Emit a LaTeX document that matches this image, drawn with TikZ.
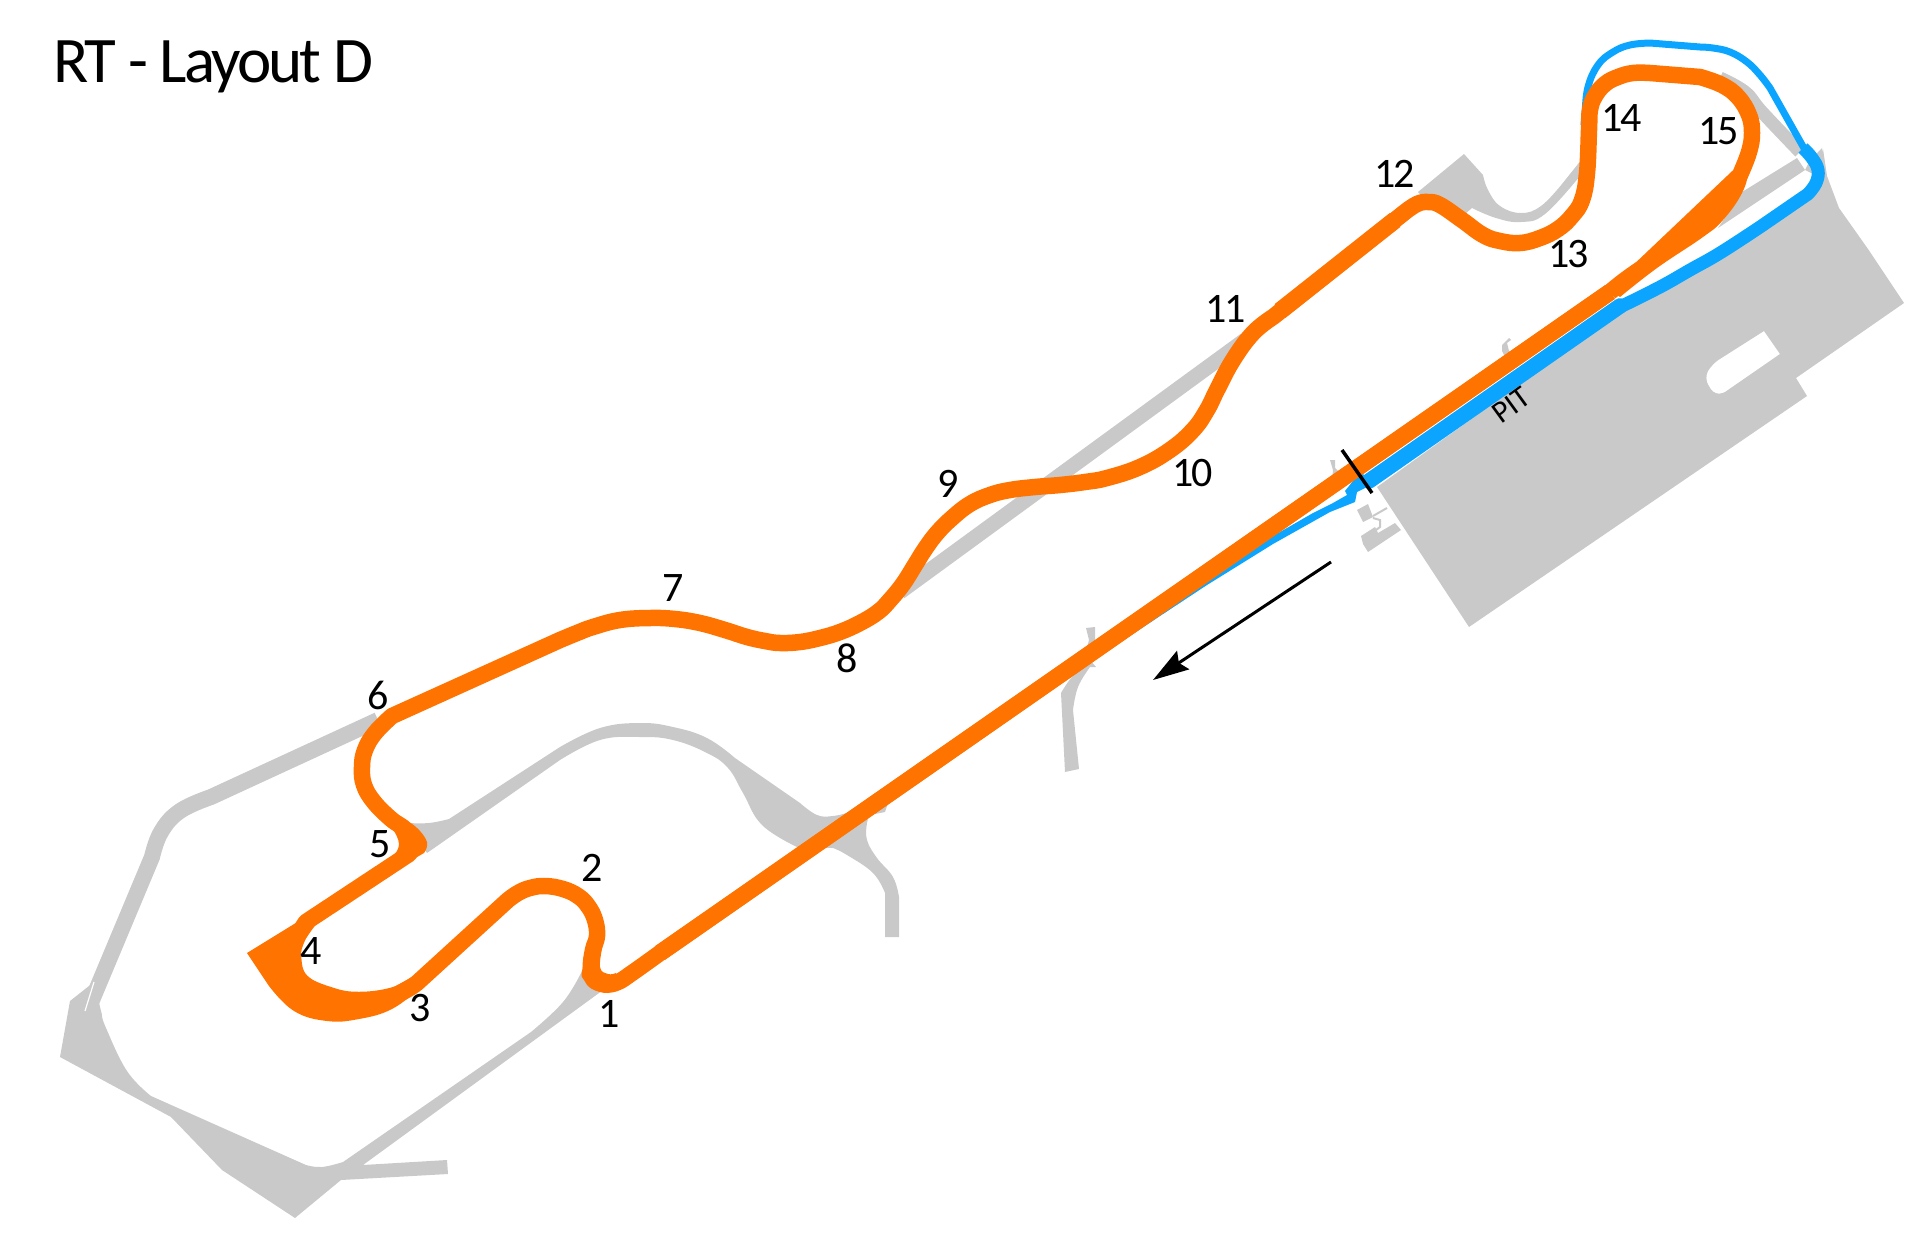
\documentclass[tikz,border=0pt]{standalone}
\usepackage{fontspec}
\usepackage{tikz}
\usetikzlibrary{arrows.meta}
\setmainfont{Carlito}

\definecolor{tarmac}{HTML}{C9C9C9}
\definecolor{trackorange}{HTML}{FF7300}
\definecolor{pitblue}{HTML}{0BA5FF}

\tikzset{
  curvy/.style={smooth,tension=.7},
  tarmacroad/.style={draw=tarmac,line width=15},
  trackline/.style={draw=trackorange,line width=16.5,line join=round},
  pitline/.style={draw=pitblue,line width=7,line join=round},
  turnlabel/.style={inner sep=0pt,font=\addfontfeature{LetterSpace=-6}\fontsize{42}{50}\selectfont}
}

\begin{document}
\begin{tikzpicture}[x=1pt,y=-1pt]

\useasboundingbox (0,0) rectangle (1920,1243);

% paddock
\fill[tarmac,even odd rule] (1823,149) -- (1827,176) -- (1839,208) -- (1868,249) -- (1904,303)
    -- (1796,378) -- (1807,396) -- (1469,627) -- (1377,487) -- (1620,312) -- (1810,190) -- cycle
    (1764,331) -- (1780,354) -- (1725,392) [rounded corners=8pt] -- (1715,396) -- (1704,378) -- (1712,364) [sharp corners] -- cycle;
\fill[tarmac] (1357,510) -- (1368,504) -- (1373,517) -- (1363,522) -- cycle;
\fill[tarmac] (1361,536) -- (1375,527) -- (1378,533) -- (1395,523) -- (1401,530) -- (1368,552) -- (1363,544) -- cycle;
\draw[tarmac,line width=2] (1373,516) -- (1387,508);
\draw[tarmac,line width=2] (1373,518) -- (1380,520) -- (1380,527) -- (1376,530);

% back roads
\fill[tarmac] (1797,158) -- (1742,192) -- (1718,228) -- (1805,170) -- cycle;
\fill[tarmac] (1810,160) -- (1822,148) -- (1825,180) -- (1805,170) -- cycle;
\draw[tarmacroad,line width=13] plot[curvy] coordinates {(1720,78) (1745,92) (1762,112) (1800,152)};
\draw[tarmacroad] (1245,340) -- (900,592);
\fill[tarmac] (1418,192) -- (1464,154) -- plot[curvy] coordinates {(1483,175) (1488,190) (1500,206) (1521,213) (1541,206) (1562,184)}
    -- (1582,159) -- (1590,180) -- plot[curvy] coordinates {(1580,176) (1545,214) (1521,222) (1496,218) (1472,208)}
    -- (1465,214) -- (1430,205) -- cycle;

% lower left corner
\draw[tarmacroad,line width=16] (378,720) -- (211,797) -- plot[curvy] coordinates {(211,797) (180,811) (161,832) (152,857)} -- (90,1005);
\fill[tarmac] (70,1001) -- (94,982) -- plot[curvy] coordinates {(102,1015) (106,1028) (127,1071) (151,1096)}
    -- plot[curvy] coordinates {(306,1165) (322,1167) (343,1162)} -- plot[curvy] coordinates {(531,1032) (563,1002) (582,971)}
    -- (610,985) -- (363,1165) -- (447,1160) -- (448,1174) -- (341,1180) -- (295,1218) -- (222,1170)
    -- (171,1117) -- (60,1057) -- cycle;
\draw[white,line width=1.2] (85,1011) -- (94,982);

% infield loop
\fill[tarmac] plot[curvy] coordinates {(408,823) (429,823) (449,819)} -- (560,747)
    -- plot[curvy] coordinates {(560,747) (600,728) (640,723) (673,727) (707,738) (735,758)}
    -- plot[curvy] coordinates {(800,803) (817,815) (833,816) (850,812)} -- (895,782) -- (885,812) -- plot[curvy] coordinates {(870,815) (867,823) (867,840) (877,858) (893,877) (899,897)}
    -- (899,937) -- (885,937) -- plot[curvy] coordinates {(885,893) (873,873) (847,855) (833,848)}
    -- plot[curvy] coordinates {(797,847) (762,825) (743,793) (728,768) (707,753) (673,740) (640,737) (600,740) (560,760)}
    -- (427,853) -- cycle;

% stubs
\fill[tarmac] plot[curvy] coordinates {(1061,693) (1072,677) (1090,660)} -- (1096,667) -- plot[curvy] coordinates {(1090,667) (1078,687) (1073,710)}
    -- (1079,769) -- (1065,772) -- cycle;
\fill[tarmac] (1086,628) -- (1095,627) -- (1095,640) -- (1105,645) -- (1085,655) -- (1089,640) -- cycle;
\fill[tarmac] (1330,460) -- (1335,460) -- (1335,468) -- (1340,473) -- (1332,480) -- (1333,470) -- cycle;
\fill[tarmac] (1509,338) -- (1502,345) -- (1502,351) -- (1507,361) -- (1513,355) -- (1509,351) -- (1507,343) -- (1511,340) -- cycle;

% pit lane
\draw[pitline] plot[curvy] coordinates {(1584,125) (1585,113) (1588,87) (1598,65) (1613,52) (1630,45) (1650,43)}
    -- plot[curvy] coordinates {(1700,47) (1713,48) (1730,52) (1747,62) (1760,75) (1770,88)} -- (1805,150);
\draw[pitline,line width=13] plot[curvy] coordinates {(1803,148) (1812,158) (1818,170) (1816,183) (1808,194)} -- (1760,227)
    -- plot[curvy] coordinates {(1760,227) (1720,253) (1690,270) (1660,287) (1620,307)};
\draw[pitline,line width=15.5,line cap=round] (1620,306) -- (1369,481);
\fill[pitblue] (1098,657) -- (1207,585) -- (1273,544) -- (1330,512) -- (1355,502) -- (1357,492) -- (1375,483) -- (1360,472)
    -- (1345,491) -- (1347,495) -- (1333,503) -- (1313,513) -- (1280,532) -- (1200,575) -- (1100,640) -- cycle;

% the track
\fill[trackorange] (247,953) -- plot[curvy] coordinates {(269,986) (294,1011) (327,1021) (359,1019) (392,1009) (420,988)}
    -- (412,977) -- plot[curvy] coordinates {(392,988) (359,993) (331,988) (306,975) (298,955) (314,927)}
    -- (325,905) -- cycle;
\fill[trackorange] plot[curvy] coordinates {(394,855) (399,844) (392,828) (380,817)} -- plot[curvy] coordinates {(402,819) (416,827) (427,842) (424,853)} -- (412,860) -- cycle;
\fill[trackorange] plot[curvy] coordinates {(590,944) (582,971) (584,980) (592,989) (608,993) (620,988)} -- plot[curvy] coordinates {(616,973) (608,974) (600,967) (603,944)} -- cycle;
\fill[trackorange] plot[curvy] coordinates {(1735,173) (1703,203) (1670,233) (1637,263) (1610,290)}
    -- plot[curvy] coordinates {(1620,297) (1657,268) (1703,237) (1723,220) (1742,193) (1750,167) (1757,137)} -- cycle;
\draw[trackline] (1610,292) -- (660,953)
    -- plot[curvy] coordinates {(660,953) (632,973) (618,982) (607,984) (596,979) (591,968) (593,950) (597,936) (595,920) (588,906) (578,896) (563,889) (545,886) (530,888) (518,893) (508,900)}
    -- plot[curvy] coordinates {(417,983) (395,995) (359,1000) (329,995) (301,981) (293,957) (297,938) (306,922)}
    -- plot[curvy] coordinates {(409,854) (413,843) (406,830) (391,819) (374,802) (364,785) (362,767) (365,750) (375,733) (392,716)}
    -- plot[curvy] coordinates {(560,640) (577,633) (593,627) (620,620) (650,618) (675,619) (700,623) (725,630) (747,637) (765,641) (780,643) (800,642) (820,638) (840,632) (860,623) (878,612) (890,600) (903,584) (915,565) (925,549) (937,533) (952,518) (970,504) (990,495) (1010,490) (1035,487) (1060,485) (1085,482) (1107,478) (1140,467) (1170,450) (1193,430) (1207,410) (1217,390) (1233,360) (1253,333) (1273,317)}
    -- plot[curvy] coordinates {(1405,212) (1417,204) (1428,202) (1440,205) (1462,220) (1483,235) (1500,241) (1520,243) (1540,238) (1558,229) (1572,216) (1582,200) (1587,173) (1589,130) (1590,110) (1595,96) (1605,84) (1618,77) (1633,73) (1650,73)}
    -- plot[curvy] coordinates {(1700,77) (1722,85) (1738,97) (1749,115) (1752,133) (1749,152) (1740,175)}
    -- plot[curvy] coordinates {(1642,268) (1625,280) (1610,292)};
\draw[trackline,line width=17.5] (1280,311) -- (1395,220);
\draw[trackline,line width=17] (1610,292) -- (660,953);

% start line and direction
\coordinate (startA) at (1342,450);
\coordinate (startB) at (1372,493);
\draw[line width=3.5] (startA) -- (startB);

\coordinate (dirA) at (1331,562);
\coordinate (dirB) at (1153,680);
\draw[line width=3,-{Stealth[length=36,width=22,inset=5]}] (dirA) -- (dirB);

\foreach \i/\x/\y in {1/609/1014,2/592/868,3/420/1008,4/311/951,5/380/844,6/378/695,7/673/588,8/847/658,9/948/484,
    10/1193/473,11/1226/309,12/1395/174,13/1569/254,14/1622/118,15/1719/131}
    \node[turnlabel] (turn\i) at (\x,\y) {\i};

\node[inner sep=0pt,rotate=36,font=\fontsize{31}{36}\selectfont] (pit) at (1511,405) {PIT};
\node[inner sep=0pt,anchor=base west,font=\addfontfeature{LetterSpace=-4.5}\fontsize{65}{78}\selectfont] (title) at (53,82) {RT - Layout D};

\end{tikzpicture}
\end{document}
